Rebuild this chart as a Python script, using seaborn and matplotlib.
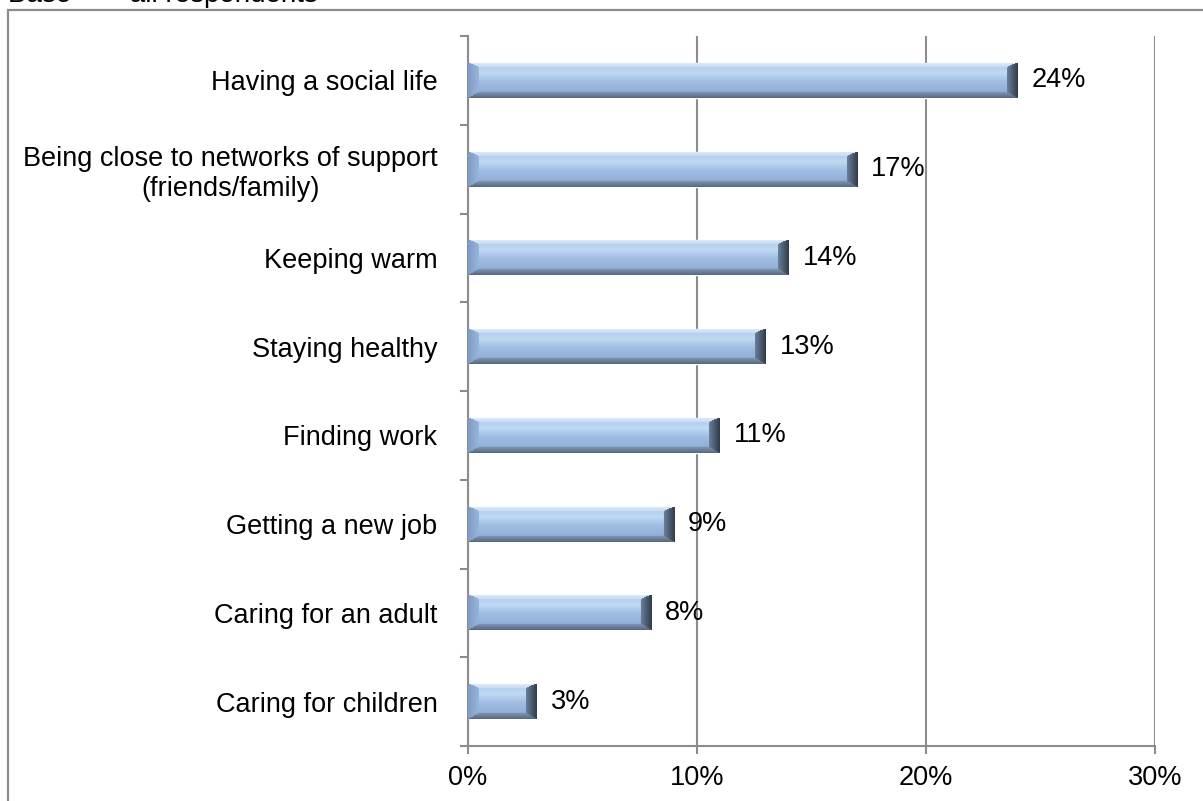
import numpy as np
import pandas as pd
import matplotlib
matplotlib.use("Agg")
import matplotlib.pyplot as plt
from matplotlib.patches import Rectangle
from matplotlib.ticker import FuncFormatter, FixedLocator
import seaborn as sns

# Survey results: share of respondents naming each concern
categories = [
    "Having a social life",
    "Being close to networks of support\n(friends/family)",
    "Keeping warm",
    "Staying healthy",
    "Finding work",
    "Getting a new job",
    "Caring for an adult",
    "Caring for children",
]
values = [24, 17, 14, 13, 11, 9, 8, 3]
x_ticks = [0, 10, 20, 30]
base_note = "Base  \u2014  all respondents"

df = pd.DataFrame({"category": categories, "share": values})

sns.set_theme(style="white")
plt.rcParams["font.family"] = ["Liberation Sans", "DejaVu Sans"]
FS = 19.5
GREY = "#8c8c8c"

fig = plt.figure(figsize=(12.03, 8.01), dpi=100)
ax = fig.add_axes([468 / 1203, 1 - 746 / 801, (1155 - 468) / 1203, (746 - 36) / 801])

sns.barplot(data=df, x="share", y="category", orient="h", color="#9dbbe0",
            saturation=1, width=0.395, ax=ax, zorder=2)

ax.set_xlim(0, 30)
ax.set_ylim(len(categories) - 0.5, -0.5)
ax.set_xlabel("")
ax.set_ylabel("")

# axes styling
for side in ("top", "right"):
    ax.spines[side].set_visible(False)
for side in ("left", "bottom"):
    ax.spines[side].set_color(GREY)
    ax.spines[side].set_linewidth(1.5)
ax.set_axisbelow(True)
ax.xaxis.grid(True, color=GREY, linewidth=1.5)
ax.yaxis.grid(False)

ax.xaxis.set_major_locator(FixedLocator(x_ticks))
ax.xaxis.set_major_formatter(FuncFormatter(lambda v, p: f"{v:.0f}%"))
ax.tick_params(axis="x", which="major", length=6, width=1.5, color=GREY,
               direction="out", labelsize=FS, pad=8, bottom=True)

ax.yaxis.set_minor_locator(FixedLocator(np.arange(-0.5, len(categories), 1.0)))
ax.tick_params(axis="y", which="minor", length=6, width=1.5, color=GREY,
               direction="out", left=True)
ax.tick_params(axis="y", which="major", length=0, labelsize=FS, pad=22)
for lab in ax.get_yticklabels():
    lab.set_multialignment("center")
    lab.set_color("black")
for lab in ax.get_xticklabels():
    lab.set_color("black")


# bevelled shading laid over each bar
def hexrgb(h):
    h = h.lstrip("#")
    return np.array([int(h[i:i + 2], 16) / 255 for i in (0, 2, 4)])


def bevel_image(W, H):
    W, H = max(int(round(W)), 2), max(int(round(H)), 2)
    jj, ii = np.meshgrid(np.arange(W) + 0.5, np.arange(H) + 0.5)
    bl, br, bt, bb = 11.0, 11.0, 5.0, 6.0
    stack = np.stack([jj / bl, (W - jj) / br, ii / bt, (H - ii) / bb])
    which = np.argmin(stack, axis=0)
    dmin = np.min(stack, axis=0)
    edge = dmin < 1

    # centre face: vertical gradient with a highlight stripe
    t = ii / H
    stops = [0.0, 0.3, 0.55, 1.0]
    cols = [hexrgb("#a9c6ea"), hexrgb("#c0daf4"), hexrgb("#9fbce2"), hexrgb("#8aa7cf")]
    img = np.zeros((H, W, 3))
    for k in range(3):
        img[..., k] = np.interp(t, stops, [c[k] for c in cols])

    faces = {
        0: (hexrgb("#7d9bc4"), hexrgb("#98b5dc")),   # left
        1: (hexrgb("#2f3a48"), hexrgb("#6a809c")),   # right
        2: (hexrgb("#e3effb"), hexrgb("#c4daf2")),   # top
        3: (hexrgb("#56677e"), hexrgb("#8196b4")),   # bottom
    }
    for k, (outer, inner) in faces.items():
        m = edge & (which == k)
        s = np.clip(dmin[m], 0, 1)[:, None]
        img[m] = outer * (1 - s) + inner * s
    return img


fig.canvas.draw()
for patch in ax.patches:
    x0, y0 = patch.get_x(), patch.get_y()
    w, h = patch.get_width(), patch.get_height()
    (px0, py0), (px1, py1) = ax.transData.transform([(x0, y0), (x0 + w, y0 + h)])
    img = bevel_image(abs(px1 - px0), abs(py1 - py0))
    im = ax.imshow(img, extent=(x0, x0 + w, y0 + h, y0), origin="upper",
                   aspect="auto", interpolation="bilinear", zorder=3)
    im.set_clip_path(patch)

ax.set_xlim(0, 30)
ax.set_ylim(len(categories) - 0.5, -0.5)

# value labels
for i, v in enumerate(values):
    ax.annotate(f"{v}%", xy=(v, i), xytext=(10, 0), textcoords="offset points",
                ha="left", va="center", fontsize=FS, color="black", zorder=4)

# chart frame and base note
fig.add_artist(Rectangle((8 / 1203, -0.05), 1.2, 1 - 10 / 801 + 0.05,
                         transform=fig.transFigure, fill=False,
                         edgecolor=GREY, linewidth=1.6, clip_on=False))
fig.text(8 / 1203, 1 - 2 / 801, base_note, ha="left", va="baseline",
         fontsize=20, color="black")

fig.savefig("out.png", dpi=100, facecolor="white")
